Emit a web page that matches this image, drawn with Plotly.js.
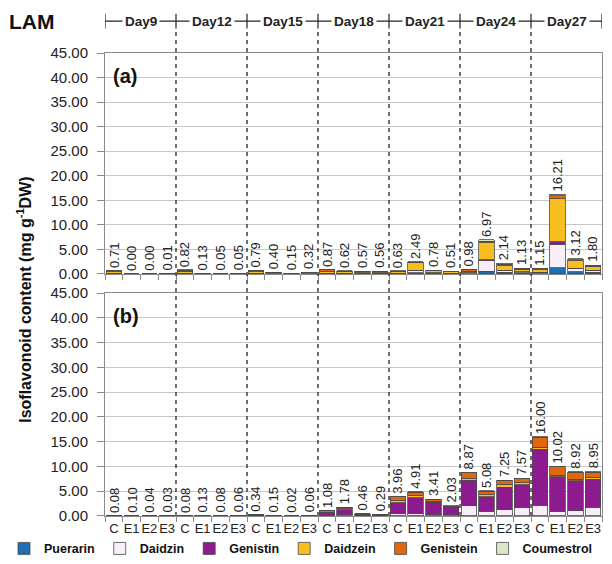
<!DOCTYPE html>
<html>
<head>
<meta charset="utf-8">
<script src="https://cdn.plot.ly/plotly-3.0.1.min.js"></script>
<style>html,body{margin:0;padding:0;background:#fff}#chart{width:612px;height:564px}</style>
</head>
<body>
<div id="chart"></div>
<script>
// ---- data ----
const days = ["Day9", "Day12", "Day15", "Day18", "Day21", "Day24", "Day27"];
const treatments = ["C", "E1", "E2", "E3"];
const compounds = ["Puerarin", "Daidzin", "Genistin", "Daidzein", "Genistein", "Coumestrol"];
const colors = ["#1f6fb4", "#f8eef8", "#8e1a8f", "#f8bd1e", "#e0670e", "#d9e6c3"];

// panel (a): totals (data labels) and components, order Day9 C,E1,E2,E3, Day12 ...
const totalsA = [0.71, 0.00, 0.00, 0.01, 0.82, 0.13, 0.05, 0.05, 0.79, 0.40, 0.15, 0.32,
  0.87, 0.62, 0.57, 0.56, 0.63, 2.49, 0.78, 0.51, 0.98, 6.97, 2.14, 1.13, 1.15, 16.21, 3.12, 1.80];
const puerarinA = [0.03,0,0,0, 0.03,0.01,0.01,0.01, 0.03,0.02,0.01,0.02, 0.05,0.05,0.15,0.15, 0.05,0.30,0.10,0.05, 0.10,0.60,0.40,0.30, 0.10,1.30,0.50,0.40];
const daidzinA = [0.07,0,0,0, 0.08,0.02,0.01,0.01, 0.08,0.05,0.02,0.03, 0.10,0.05,0.05,0.05, 0.10,0.40,0.10,0.05, 0.15,2.10,0.30,0.15, 0.20,4.80,0.60,0.30];
const genistinA = [0.02,0,0,0, 0.02,0.01,0,0, 0.02,0.01,0.01,0.01, 0.02,0.02,0.02,0.02, 0.02,0.10,0.03,0.02, 0.03,0.20,0.10,0.05, 0.05,0.50,0.10,0.05];
const daidzeinA = [0.30,0,0,0.01, 0.45,0.05,0.02,0.02, 0.30,0.20,0.05,0.18, 0.30,0.35,0.20,0.20, 0.35,1.50,0.40,0.30, 0.30,3.45,0.90,0.45, 0.50,8.70,1.50,0.80];
const genisteinA = [0.25,0,0,0, 0.20,0.02,0.01,0.01, 0.30,0.08,0.03,0.05, 0.35,0.10,0.10,0.09, 0.08,0.10,0.10,0.06, 0.35,0.35,0.30,0.10, 0.20,0.65,0.22,0.15];
const coumestrolA = [0.04,0,0,0, 0.04,0.02,0,0, 0.06,0.04,0.03,0.03, 0.05,0.05,0.05,0.05, 0.03,0.09,0.05,0.03, 0.05,0.27,0.14,0.08, 0.10,0.26,0.20,0.10];

// panel (b)
const totalsB = [0.08, 0.10, 0.04, 0.03, 0.08, 0.13, 0.08, 0.06, 0.34, 0.15, 0.02, 0.06,
  1.08, 1.78, 0.46, 0.29, 3.96, 4.91, 3.41, 2.03, 8.87, 5.08, 7.25, 7.57, 16.00, 10.02, 8.92, 8.95];
const puerarinB = [0,0,0,0, 0,0,0,0, 0.01,0,0,0, 0.01,0.01,0.01,0.01, 0.02,0.02,0.02,0.02, 0.05,0.03,0.03,0.03, 0.05,0.02,0.02,0.02];
const daidzinB = [0.02,0.02,0.01,0.01, 0.02,0.03,0.02,0.01, 0.05,0.03,0.01,0.01, 0.10,0.20,0.05,0.03, 0.40,0.40,0.30,0.20, 2.00,0.90,1.20,1.75, 2.10,0.90,1.00,1.70];
const genistinB = [0.03,0.04,0.02,0.01, 0.03,0.05,0.03,0.03, 0.15,0.06,0.01,0.03, 0.50,1.10,0.20,0.12, 2.30,3.30,2.50,1.50, 5.15,3.00,4.60,4.50, 11.35,7.00,6.10,5.65];
const daidzeinB = [0.01,0.01,0,0, 0.01,0.01,0.01,0, 0.03,0.01,0,0, 0.10,0.12,0.05,0.03, 0.35,0.40,0.15,0.05, 0.40,0.35,0.55,0.45, 0.40,0.35,0.30,0.35];
const genisteinB = [0.01,0.02,0.01,0.01, 0.01,0.03,0.01,0.01, 0.08,0.04,0,0.01, 0.32,0.30,0.12,0.08, 0.80,0.70,0.40,0.20, 1.15,0.70,0.80,0.75, 2.00,1.65,1.40,1.15];
const coumestrolB = [0.01,0.01,0,0, 0.01,0.01,0.01,0.01, 0.02,0.01,0,0.01, 0.05,0.05,0.03,0.02, 0.09,0.09,0.04,0.06, 0.12,0.10,0.07,0.09, 0.10,0.10,0.10,0.08];

const yTicks = [0, 5, 10, 15, 20, 25, 30, 35, 40, 45];

// ---- build ----
const FONT = "Arial, 'Liberation Sans', Helvetica, sans-serif";
const cats = [];
days.forEach(d => treatments.forEach(t => cats.push(d + " " + t)));
const nCat = cats.length;
const tickText = cats.map((c, i) => treatments[i % treatments.length]);
const seriesA = [puerarinA, daidzinA, genistinA, daidzeinA, genisteinA, coumestrolA];
const seriesB = [puerarinB, daidzinB, genistinB, daidzeinB, genisteinB, coumestrolB];

const traces = [];
compounds.forEach((name, k) => {
  traces.push({type: "bar", x: cats, y: seriesA[k], name: name, legendgroup: name,
    marker: {color: colors[k], line: {color: "#4a4a4a", width: 0.8}},
    xaxis: "x", yaxis: "y", showlegend: true, hoverinfo: "skip"});
});
compounds.forEach((name, k) => {
  traces.push({type: "bar", x: cats, y: seriesB[k], name: name, legendgroup: name,
    marker: {color: colors[k], line: {color: "#4a4a4a", width: 0.8}},
    xaxis: "x2", yaxis: "y2", showlegend: false, hoverinfo: "skip"});
});

const boundaries = [];
for (let g = 0; g <= days.length; g++) boundaries.push(g * treatments.length - 0.5);

// figure geometry (paper = 105..612 px wide, 53..516 px tall)
const PW = 507, PL = 105;
const px = p => (p - PL) / PW;
const headerY = 1.069;
const shapes = [];
for (let g = 1; g < days.length; g++) {
  shapes.push({type: "line", xref: "x", yref: "paper", x0: boundaries[g], x1: boundaries[g],
    y0: 0, y1: headerY - 0.016, line: {color: "#222", width: 1.3, dash: "4px,4px"}, layer: "above"});
}
shapes.push({type: "line", xref: "x", yref: "paper", x0: boundaries[0], x1: boundaries[boundaries.length - 1],
  y0: headerY, y1: headerY, line: {color: "#222", width: 1.2}});
boundaries.forEach(b => {
  shapes.push({type: "line", xref: "x", yref: "paper", x0: b, x1: b, y0: headerY - 0.016, y1: headerY + 0.016,
    line: {color: "#222", width: 1.2}});
});

const annotations = [];
days.forEach((d, g) => {
  annotations.push({xref: "x", yref: "paper", x: (boundaries[g] + boundaries[g + 1]) / 2, y: headerY,
    text: "<b>" + d + "</b>", showarrow: false, bgcolor: "#fff", borderpad: 2,
    font: {family: FONT, size: 13.5, color: "#222"}, xanchor: "center", yanchor: "middle"});
});
cats.forEach((c, i) => {
  annotations.push({xref: "x", yref: "y", x: c, y: totalsA[i], text: totalsA[i].toFixed(2),
    textangle: -90, showarrow: false, xanchor: "center", yanchor: "bottom", yshift: 1,
    font: {family: FONT, size: 13, color: "#222"}});
  annotations.push({xref: "x2", yref: "y2", x: c, y: totalsB[i], text: totalsB[i].toFixed(2),
    textangle: -90, showarrow: false, xanchor: "center", yanchor: "bottom", yshift: 1,
    font: {family: FONT, size: 13, color: "#222"}});
});
annotations.push({xref: "x domain", yref: "y domain", x: 0.012, y: 0.896, text: "<b>(a)</b>",
  showarrow: false, xanchor: "left", yanchor: "middle", font: {family: FONT, size: 20, color: "#111"}});
annotations.push({xref: "x2 domain", yref: "y2 domain", x: 0.012, y: 0.896, text: "<b>(b)</b>",
  showarrow: false, xanchor: "left", yanchor: "middle", font: {family: FONT, size: 20, color: "#111"}});
annotations.push({xref: "paper", yref: "paper", x: px(7), y: headerY, text: "<b>LAM</b>",
  showarrow: false, xanchor: "left", yanchor: "middle", font: {family: FONT, size: 21, color: "#111"}});
annotations.push({xref: "paper", yref: "paper", x: px(24), y: 0.467,
  text: "<b>Isoflavonoid content (mg g<sup>-1</sup>DW)</b>", textangle: -90,
  showarrow: false, xanchor: "center", yanchor: "middle", font: {family: FONT, size: 16, color: "#111"}});

const yAxisBase = {range: [0, 45], tickvals: yTicks, ticktext: yTicks.map(v => v.toFixed(2)),
  showgrid: true, gridcolor: "#c8c8c8", gridwidth: 1, zeroline: false,
  showline: true, linecolor: "#8a8a8a", linewidth: 1, mirror: true,
  ticks: "outside", ticklen: 7, tickcolor: "#8a8a8a", ticklabelstandoff: 6,
  tickfont: {family: FONT, size: 15, color: "#222"}, fixedrange: true};
const xAxisBase = {type: "category", categoryorder: "array", categoryarray: cats,
  range: [-0.5, nCat - 0.5], tickmode: "array", tickvals: cats, ticktext: tickText,
  tickson: "boundaries", ticks: "outside", ticklen: 5, tickcolor: "#8a8a8a", tickangle: 0,
  showgrid: false, zeroline: false, showline: true, linecolor: "#8a8a8a", linewidth: 1,
  mirror: true, tickfont: {family: FONT, size: 13, color: "#222"}, fixedrange: true,
  domain: [0, 497 / PW]};

const layout = {
  width: 612, height: 564,
  margin: {l: PL, r: 0, t: 53, b: 48},
  paper_bgcolor: "#fff", plot_bgcolor: "#fff",
  barmode: "stack", bargap: 0.13,
  showlegend: true,
  legend: {orientation: "h", x: px(4), xanchor: "left", y: -0.1032, yanchor: "bottom",
    font: {family: FONT, size: 12.5, color: "#111", weight: "bold"}, traceorder: "normal"},
  xaxis: Object.assign({}, xAxisBase, {anchor: "y", showticklabels: false}),
  yaxis: Object.assign({}, yAxisBase, {domain: [0.5227, 1], anchor: "x"}),
  xaxis2: Object.assign({}, xAxisBase, {anchor: "y2", showticklabels: true}),
  yaxis2: Object.assign({}, yAxisBase, {domain: [0, 0.4816], anchor: "x2"}),
  shapes: shapes,
  annotations: annotations
};

Plotly.newPlot("chart", traces, layout, {displayModeBar: false, staticPlot: true});
</script>
</body>
</html>
